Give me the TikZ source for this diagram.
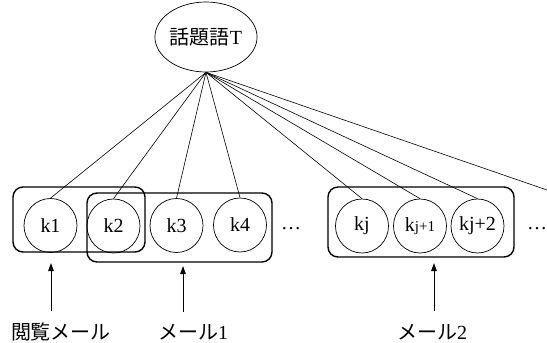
\documentclass[tikz,border=0pt]{standalone}
\usepackage{fontspec}
\setmainfont{Liberation Serif}
\newfontfamily\cjk{Noto Sans CJK JP}
\usetikzlibrary{arrows.meta,shapes.geometric}
\begin{document}
\begin{tikzpicture}[x=1pt,y=-1pt,
  txt/.style={font=\fontsize{20}{24}\selectfont},
  kn/.style={ellipse,draw,line width=0.7pt,minimum width=53pt,minimum height=54pt,inner sep=0pt,txt},
  grp/.style={draw,line width=1.4pt,rounded corners=10pt,inner sep=0pt},
  link/.style={line width=0.6pt},
  up/.style={line width=1pt,-{Triangle[length=8pt,width=5.5pt]}},
  lab/.style={txt,inner sep=0pt}]
\useasboundingbox (0,0) rectangle (547,343);
% topic node
\node[ellipse,draw,line width=0.7pt,minimum width=102pt,minimum height=70pt,inner sep=0pt,txt] (T) at (206,37) {{\cjk 話題語}T};
% group boxes
\node[grp,minimum width=132pt,minimum height=65pt] (g0) at (79,219.5) {};
\node[grp,minimum width=185pt,minimum height=69pt] (g1) at (179.5,227.5) {};
\node[grp,minimum width=186pt,minimum height=70pt] (g2) at (421,222) {};
% keyword nodes
\node[kn] (k1) at (50.5,225.5) {k1};
\node[kn] (k2) at (113.5,226) {k2};
\node[kn] (k3) at (176.5,225.5) {k3};
\node[kn] (k4) at (240,225) {k4};
\node[kn] (kj) at (362,226) {kj};
\node[kn] (kj1) at (420,226) {k{\fontsize{15}{18}\selectfont j+1}};
\node[kn] (kj2) at (477.5,226) {kj+2};
\node[lab] (d1) at (291,229) {\dots};
\node[lab] (d2) at (537,229) {\dots};
% connectors from topic
\foreach \n in {k1,k2,k3,k4,kj,kj1,kj2}
  \draw[link] (T.south) -- (\n.north);
\coordinate (off) at (547,190);
\draw[link] (T.south) -- (off);
% labels and arrows
\node[lab] (L0) at (61,332) {\cjk 閲覧メール};
\node[lab] (L1) at (193,332) {{\cjk メール}1};
\node[lab] (L2) at (432,332) {{\cjk メール}2};
\coordinate (a0b) at (51,311);
\coordinate (a0t) at (51,263);
\coordinate (a1b) at (183,312);
\coordinate (a1t) at (183,266);
\coordinate (a2b) at (434,311);
\coordinate (a2t) at (434,263);
\draw[up] (a0b) -- (a0t);
\draw[up] (a1b) -- (a1t);
\draw[up] (a2b) -- (a2t);
\end{tikzpicture}
\end{document}
